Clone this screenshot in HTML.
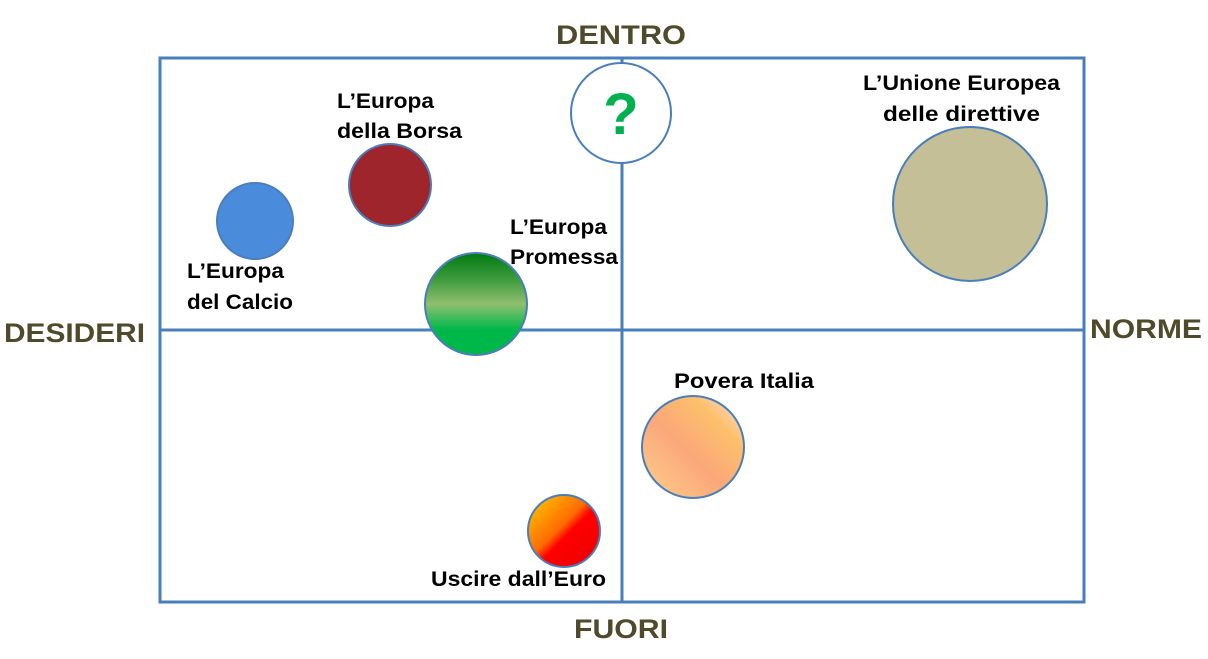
<!DOCTYPE html>
<html><head><style>
body{margin:0;width:1208px;height:654px;background:#fff;overflow:hidden}
</style></head><body>
<svg width="1208" height="654" xmlns="http://www.w3.org/2000/svg" font-family="Liberation Sans, sans-serif" font-weight="bold">
<defs>
<linearGradient id="g" x1="0" y1="0" x2="0" y2="1">
<stop offset="0" stop-color="#007a10"/><stop offset="0.25" stop-color="#3c9a3c"/><stop offset="0.5" stop-color="#8fbf6f"/><stop offset="0.75" stop-color="#00b84a"/><stop offset="1" stop-color="#00b84a"/></linearGradient>
<linearGradient id="p" x1="1" y1="0" x2="0" y2="1">
<stop offset="0" stop-color="#fbe0f5"/><stop offset="0.25" stop-color="#fdc06a"/><stop offset="0.55" stop-color="#fba77a"/><stop offset="1" stop-color="#fed08c"/></linearGradient>
<linearGradient id="r" x1="0" y1="0" x2="1" y2="1">
<stop offset="0" stop-color="#ffd200"/><stop offset="0.45" stop-color="#ff6a00"/><stop offset="0.55" stop-color="#ff0000"/><stop offset="0.85" stop-color="#f00000"/><stop offset="1" stop-color="#a00000"/></linearGradient>
</defs>
<g stroke="#4a7ebb" stroke-width="3" fill="none">
<rect x="160" y="58" width="924" height="544"/>
<line x1="622" y1="58" x2="622" y2="602"/>
<line x1="160" y1="330" x2="1084" y2="330"/>
</g>
<g stroke="#4a7ebb" stroke-width="2">
<circle cx="255" cy="221" r="38" fill="#4a8bdc"/>
<circle cx="390" cy="185" r="41" fill="#9e252c"/>
<circle cx="476" cy="304" r="51" fill="url(#g)"/>
<circle cx="621" cy="113" r="50" fill="#fff"/>
<circle cx="970" cy="204" r="77" fill="#c4bf97"/>
<circle cx="693" cy="447" r="51" fill="url(#p)"/>
<circle cx="564" cy="531" r="36" fill="url(#r)"/>
</g>
<text x="621" y="134" text-anchor="middle" font-size="58" fill="#00b050">?</text>
<g fill="#4f4a2a" font-size="27" lengthAdjust="spacingAndGlyphs">
<text x="556" y="44" textLength="130" lengthAdjust="spacingAndGlyphs">DENTRO</text>
<text x="574" y="638" textLength="94" lengthAdjust="spacingAndGlyphs">FUORI</text>
<text x="4" y="342" textLength="141" lengthAdjust="spacingAndGlyphs">DESIDERI</text>
<text x="1090" y="338" textLength="112" lengthAdjust="spacingAndGlyphs">NORME</text>
</g>
<g fill="#000" font-size="21">
<text x="337" y="108" textLength="97" lengthAdjust="spacingAndGlyphs">L’Europa</text>
<text x="337" y="138" textLength="125" lengthAdjust="spacingAndGlyphs">della Borsa</text>
<text x="187" y="278" textLength="97" lengthAdjust="spacingAndGlyphs">L’Europa</text>
<text x="187" y="309" textLength="106" lengthAdjust="spacingAndGlyphs">del Calcio</text>
<text x="510" y="234" textLength="97" lengthAdjust="spacingAndGlyphs">L’Europa</text>
<text x="510" y="264" textLength="108" lengthAdjust="spacingAndGlyphs">Promessa</text>
<text x="863" y="90" textLength="197" lengthAdjust="spacingAndGlyphs">L’Unione Europea</text>
<text x="883" y="121" textLength="157" lengthAdjust="spacingAndGlyphs">delle direttive</text>
<text x="674" y="388" textLength="140" lengthAdjust="spacingAndGlyphs">Povera Italia</text>
<text x="431" y="586" textLength="175" lengthAdjust="spacingAndGlyphs">Uscire dall’Euro</text>
</g>
</svg>
</body></html>
